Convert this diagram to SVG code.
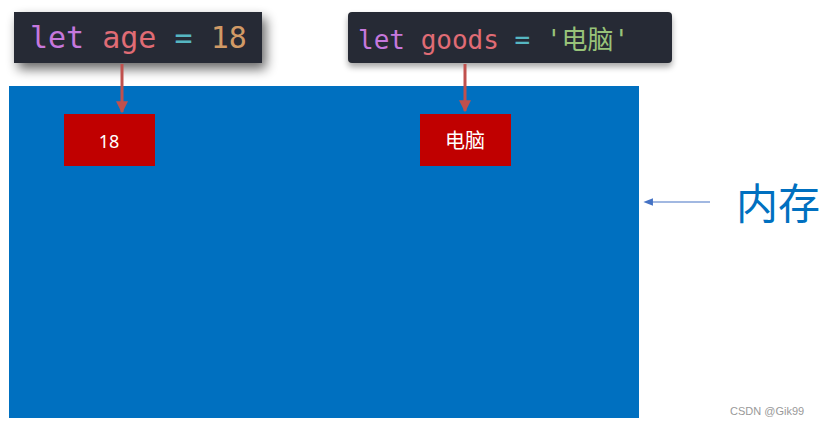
<svg xmlns="http://www.w3.org/2000/svg" width="831" height="425" viewBox="0 0 831 425">
<defs>
<style>
.code{font-family:"DejaVu Sans Mono","Liberation Mono","Noto Sans CJK SC",monospace;white-space:pre}
.kw{fill:#C678DD}.var{fill:#E06C75}.op{fill:#56B6C2}.num{fill:#D19A66}.str{fill:#98C379}
.val{font-family:"Noto Sans","Noto Sans CJK SC",sans-serif;fill:#FFFFFF;text-anchor:middle}
.cell{fill:#C00000}
.link{stroke:#C0504D;stroke-width:3;fill:none}
</style>
<filter id="sh" x="-20%" y="-60%" width="140%" height="220%">
<feGaussianBlur in="SourceAlpha" stdDeviation="6"/>
<feOffset dx="4" dy="6" result="b"/>
<feComponentTransfer><feFuncA type="linear" slope="0.6"/></feComponentTransfer>
<feMerge><feMergeNode/><feMergeNode in="SourceGraphic"/></feMerge>
</filter>
<filter id="sh2" x="-10%" y="-30%" width="120%" height="160%">
<feGaussianBlur in="SourceAlpha" stdDeviation="3"/>
<feOffset dx="0" dy="4"/>
<feComponentTransfer><feFuncA type="linear" slope="0.35"/></feComponentTransfer>
<feMerge><feMergeNode/><feMergeNode in="SourceGraphic"/></feMerge>
</filter>
<marker id="ah" viewBox="0 0 10 10" refX="9" refY="5" markerWidth="4" markerHeight="4" orient="auto">
<path d="M0,0 L10,5 L0,10 z" fill="#C0504D"/>
</marker>
<marker id="ab" viewBox="0 0 10 10" refX="1" refY="5" markerWidth="8" markerHeight="8" orient="auto-start-reverse">
<path d="M0,1 L10,5 L0,9 z" fill="#4472C4"/>
</marker>
</defs>
<rect width="831" height="425" fill="#FFFFFF"/>
<g id="memory">
<rect x="9" y="86" width="630" height="332" fill="#0070C0"/>
</g>
<g id="code-age">
<rect x="14" y="12" width="248" height="51" fill="#282C34" filter="url(#sh)"/>
<text class="code" x="30" y="48" font-size="30"><tspan class="kw">let</tspan> <tspan class="var">age</tspan> <tspan class="op">=</tspan> <tspan class="num">18</tspan></text>
</g>
<g id="code-goods">
<rect x="348" y="12" width="324" height="51" rx="4" fill="#282C34" filter="url(#sh2)"/>
<text class="code" x="358" y="49" font-size="26"><tspan class="kw">let</tspan> <tspan class="var">goods</tspan> <tspan class="op">=</tspan> <tspan class="str">'电脑'</tspan></text>
</g>
<g id="cell-18">
<rect class="cell" x="64" y="114" width="91" height="52"/>
<text class="val" x="109" y="148" font-size="18">18</text>
</g>
<g id="cell-pc">
<rect class="cell" x="420" y="114" width="91" height="52"/>
<text class="val" x="465" y="148" font-size="20">电脑</text>
</g>
<g id="label-memory">
<text x="736" y="219" font-size="42" fill="#0070C0" font-family="'Noto Sans CJK SC',sans-serif">内存</text>
</g>
<g id="connectors">
<line class="link" x1="122" y1="64" x2="122" y2="112" marker-end="url(#ah)"/>
<line class="link" x1="465" y1="64" x2="465" y2="111" marker-end="url(#ah)"/>
<line x1="710" y1="202" x2="652" y2="202" stroke="#4472C4" stroke-width="1.2" marker-start="url(#ab)" transform="rotate(180 681 202)"/>
</g>
<text x="730" y="415" font-size="11" fill="#999999" font-family="'Liberation Sans',sans-serif">CSDN @Gik99</text>
</svg>
